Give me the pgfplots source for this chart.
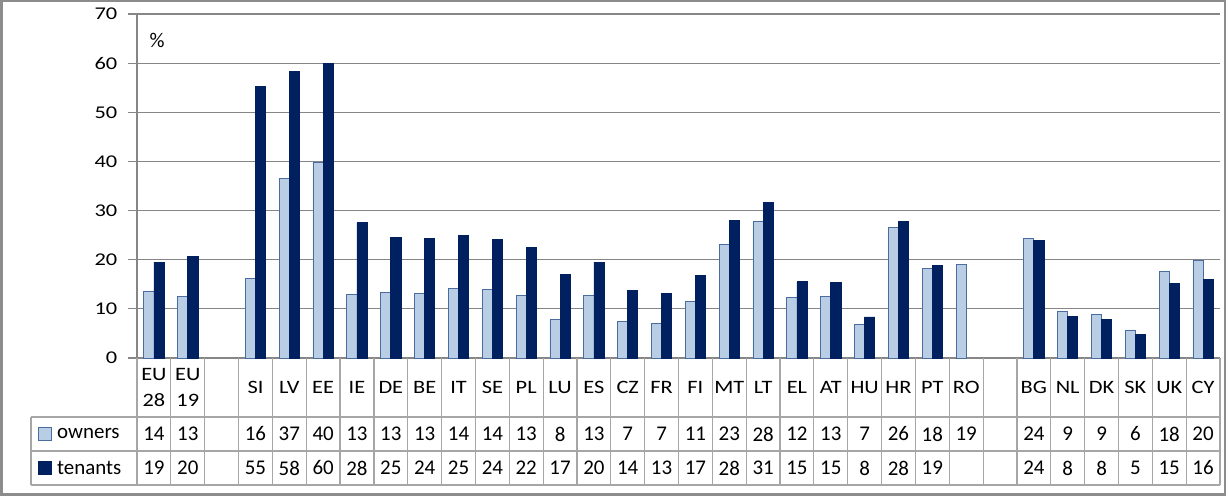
\documentclass[border=0pt]{standalone}
\usepackage{pgfplots}
\pgfplotsset{compat=1.18}
\usepackage{fontspec}
\setmainfont{Carlito}
\definecolor{own}{HTML}{B9CDE5}
\definecolor{owned}{HTML}{4A6C9E}
\definecolor{ten}{HTML}{002060}
\definecolor{gridc}{HTML}{868686}
\definecolor{tabc}{HTML}{A6A6A6}
\definecolor{frame}{HTML}{8C8C8C}
\begin{document}
\begin{tikzpicture}[x=1bp,y=1bp]
\useasboundingbox (0,0) rectangle (1226,496);
\draw[frame, line width=2.5bp] (1.25,1.25) rectangle (1224.75,494.75);
\begin{axis}[
  at={(137bp,138bp)}, anchor=south west,
  scale only axis, width=1083bp, height=344bp,
  xmin=-0.5, xmax=31.5, ymin=0, ymax=70,
  ybar=0pt, bar width=0.3,
  ytick={0,10,...,70}, xtick=\empty,
  ymajorgrids, grid style={gridc, line width=1.2bp},
  axis x line*=bottom, axis y line*=left,
  axis line style={gridc, line width=1.2bp, -},
  tick align=outside, major tick length=9bp,
  ytick style={gridc, line width=1.2bp},
  yticklabel style={font=\fontsize{18}{20}\selectfont, xscale=1.25, xshift=-5bp},
  /pgf/number format/assume math mode=true,
  clip=false,
]
\addplot[fill=own, draw=owned, line width=0.8bp] coordinates {
(0,13.5) (1,12.5) (3,16.1) (4,36.6) (5,39.8) (6,13.0) (7,13.4) (8,13.2) (9,14.2) (10,14.0)
(11,12.75) (12,7.9) (13,12.75) (14,7.5) (15,7.05) (16,11.5) (17,23.1) (18,27.8) (19,12.35) (20,12.55)
(21,6.85) (22,26.5) (23,18.25) (24,19.1) (26,24.4) (27,9.5) (28,8.9) (29,5.7) (30,17.6) (31,19.9)};
\addplot[fill=ten, draw=ten, line width=0.8bp] coordinates {
(0,19.5) (1,20.6) (3,55.2) (4,58.3) (5,60.0) (6,27.5) (7,24.6) (8,24.4) (9,25.0) (10,24.15)
(11,22.5) (12,17.0) (13,19.5) (14,13.8) (15,13.2) (16,16.8) (17,28.0) (18,31.7) (19,15.5) (20,15.3)
(21,8.35) (22,27.8) (23,18.9) (26,24.0) (27,8.5) (28,7.9) (29,4.7) (30,15.1) (31,15.9)};
\end{axis}
\def\cw{33.84375}
% percent sign
\node[font=\fontsize{21}{23}\selectfont] at (157,456) {\%};
% table lines
\draw[tabc, line width=1.2bp] (31,79) -- (1220,79);
\draw[tabc, line width=1.2bp] (31,45) -- (1220,45);
\draw[tabc, line width=1.2bp] (31,11) -- (1220,11);
\draw[tabc, line width=1.2bp] (31,79) -- (31,11);
\foreach \k in {0,...,32} \draw[tabc, line width=1.2bp] ({137+\k*\cw},138) -- ({137+\k*\cw},11);
% category row
\foreach \lab [count=\i from 0] in {{EU\\28},{EU\\19},{},SI,LV,EE,IE,DE,BE,IT,SE,PL,LU,ES,CZ,FR,FI,MT,LT,EL,AT,HU,HR,PT,RO,{},BG,NL,DK,SK,UK,CY}
  \node[align=center, font=\fontsize{19}{26}\selectfont, xscale=1.18, inner sep=0pt] at ({137+(\i+0.5)*\cw},108.5) {\lab};
% owners row
\foreach \v [count=\i from 0] in {14,13,{},16,37,40,13,13,13,14,14,13,8,13,7,7,11,23,28,12,13,7,26,18,19,{},24,9,9,6,18,20}
  \node[font=\fontsize{21}{23}\selectfont, inner sep=0pt] at ({137+(\i+0.5)*\cw},62) {\v};
% tenants row
\foreach \v [count=\i from 0] in {19,20,{},55,58,60,28,25,24,25,24,22,17,20,14,13,17,28,31,15,15,8,28,19,{},{},24,8,8,5,15,16}
  \node[font=\fontsize{21}{23}\selectfont, inner sep=0pt] at ({137+(\i+0.5)*\cw},28) {\v};
% legend
\draw[owned, fill=own, line width=0.8bp] (38.5,55.5) rectangle (51.5,68.5);
\draw[ten, fill=ten, line width=0.8bp] (38.5,21.5) rectangle (51.5,34.5);
\node[anchor=west, font=\fontsize{21}{23}\selectfont, inner sep=0pt] at (57,62) {owners};
\node[anchor=west, font=\fontsize{21}{23}\selectfont, inner sep=0pt] at (57,28) {tenants};
\end{tikzpicture}
\end{document}
